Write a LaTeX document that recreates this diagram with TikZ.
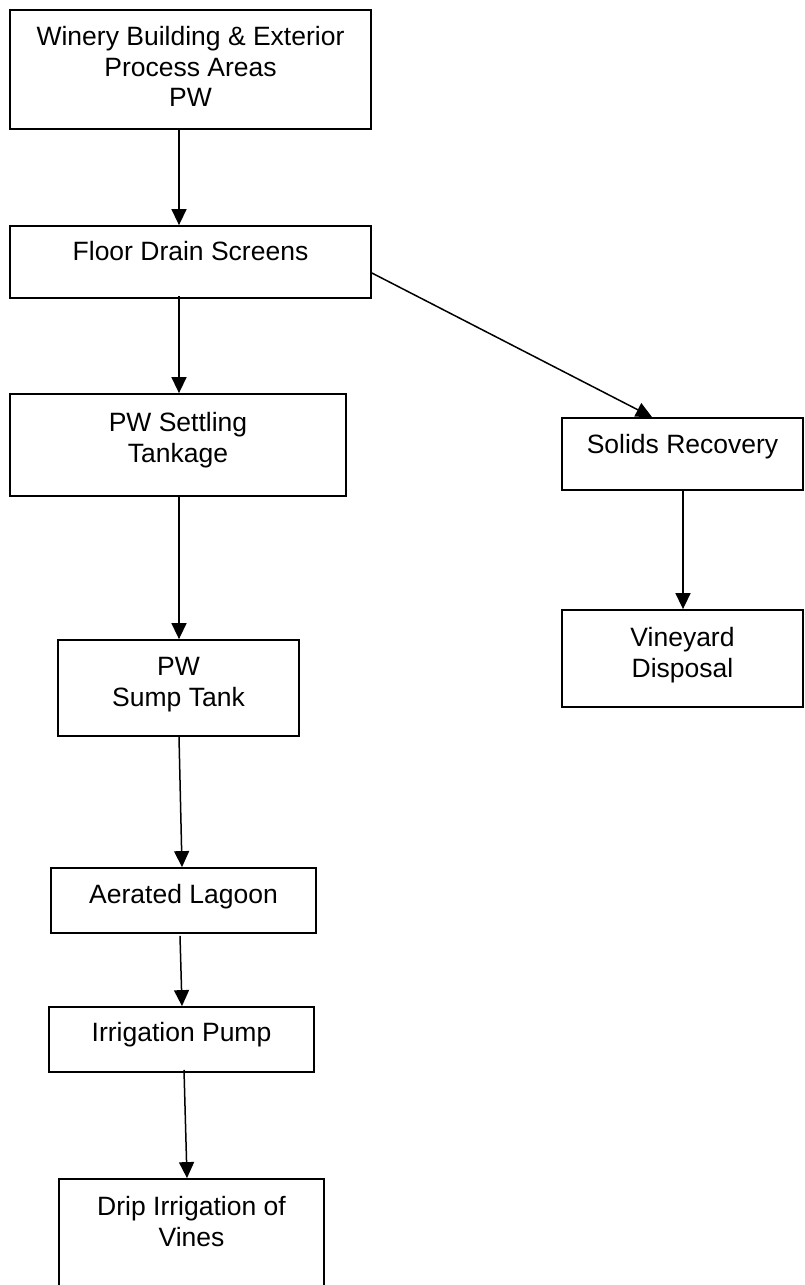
\documentclass[tikz,border=0pt]{standalone}
\usepackage{fontspec}
\setmainfont{Liberation Sans}
\usetikzlibrary{arrows.meta}
\begin{document}
\begin{tikzpicture}[x=1pt,y=-1pt,
  box/.style={draw, line width=1.8pt, inner sep=0pt},
  txt/.style={font=\fontsize{26.5}{30.5}\selectfont, align=center, inner sep=0pt, anchor=north},
  flow/.style={line width=1.5pt, -{Triangle[width=15pt,length=16pt]}}]
\clip (0,0) rectangle (805,1285);
\fill[white] (0,0) rectangle (805,1285);

% boxes
\node[box, minimum width=361pt, minimum height=119pt] (b1) at (190.5,69.5) {};
\node[txt] (t1) at ([yshift=-17pt]b1.north) {Winery Building \& Exterior\\Process Areas\\PW};

\node[box, minimum width=361pt, minimum height=72pt] (b2) at (190.5,262) {};
\node[txt] (t2) at ([yshift=-16pt]b2.north) {Floor Drain Screens};

\node[box, minimum width=336pt, minimum height=102pt] (b3) at (178,445) {};
\node[txt] (t3) at ([yshift=-19pt]b3.north) {PW Settling\\Tankage};

\node[box, minimum width=241pt, minimum height=72pt] (b4) at (682.5,454) {};
\node[txt] (t4) at ([yshift=-17pt]b4.north) {Solids Recovery};

\node[box, minimum width=241pt, minimum height=97pt] (b5) at (682.5,658.5) {};
\node[txt] (t5) at ([yshift=-18pt]b5.north) {Vineyard\\Disposal};

\node[box, minimum width=241pt, minimum height=96pt] (b6) at (178.5,688) {};
\node[txt] (t6) at ([yshift=-18pt]b6.north) {PW\\Sump Tank};

\node[box, minimum width=265pt, minimum height=65pt] (b7) at (183.5,900.5) {};
\node[txt] (t7) at ([yshift=-17pt]b7.north) {Aerated Lagoon};

\node[box, minimum width=265pt, minimum height=65pt] (b8) at (181.5,1039.5) {};
\node[txt] (t8) at ([yshift=-16pt]b8.north) {Irrigation Pump};

\node[box, minimum width=265pt, minimum height=116pt] (b9) at (191.5,1237) {};
\node[txt] (t9) at ([yshift=-18pt]b9.north) {Drip Irrigation of\\Vines};

% connectors
\draw[flow] ([xshift=-11.5pt]b1.south) -- ([xshift=-11.5pt]b2.north);
\draw[flow] ([xshift=-11.5pt,yshift=3pt]b2.south) -- ([xshift=1pt]b3.north);
\draw[flow] ([yshift=-11pt]b2.east) -- ([xshift=-30.5pt]b4.north);
\draw[flow] ([xshift=1pt]b3.south) -- ([xshift=0.5pt]b6.north);
\draw[flow] ([xshift=0.5pt]b4.south) -- ([xshift=0.5pt]b5.north);
\draw[flow] ([xshift=0.5pt]b6.south) -- ([xshift=-1.5pt]b7.north);
\draw[flow] ([xshift=-3.5pt,yshift=-2pt]b7.south) -- ([xshift=0.5pt]b8.north);
\draw[flow] ([xshift=2.5pt,yshift=3pt]b8.south) -- ([xshift=-4.5pt]b9.north);
\end{tikzpicture}
\end{document}
